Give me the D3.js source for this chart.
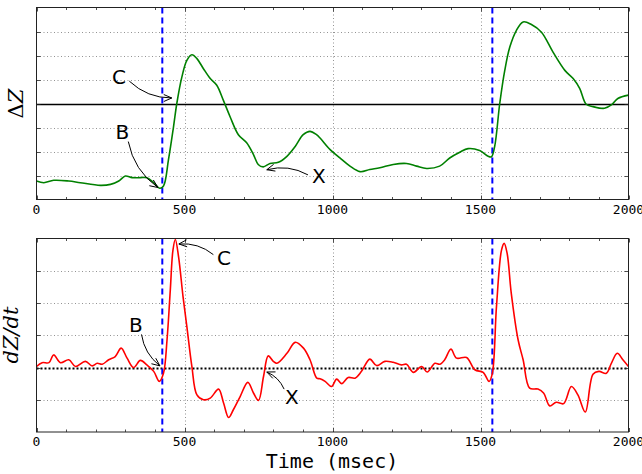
<!DOCTYPE html>
<html>
<head>
<meta charset="utf-8">
<script src="https://cdn.jsdelivr.net/npm/d3@7/dist/d3.min.js"></script>
<style>
  body { margin: 0; background: #fff; }
</style>
</head>
<body>
<div id="chart"></div>
<script>
// values (time in msec)
var timeZ = [0,25,58,109,148,216,250,278,300,323,351,373,396,416,429,446,463,474,491,508,525,542,564,587,609,631,654,682,710,733,749,766,789,817,846,874,901,924,946,958,992,1025,1059,1093,1126,1160,1205,1250,1284,1318,1362,1396,1430,1458,1497,1526,1537,1548,1565,1582,1599,1621,1644,1672,1706,1745,1785,1813,1835,1857,1880,1919,1942,1964,2000];
var deltaZ = [-3.23,-3.30,-3.20,-3.23,-3.30,-3.41,-3.37,-3.23,-3.02,-3.09,-3.09,-3.09,-3.30,-3.53,-3.44,-2.33,-0.96,0,1.10,1.80,2.03,1.87,1.45,1.04,0.76,0.14,-0.55,-1.30,-1.64,-2.13,-2.54,-2.64,-2.50,-2.45,-2.20,-1.79,-1.30,-1.16,-1.30,-1.44,-1.92,-2.27,-2.61,-2.84,-2.75,-2.68,-2.54,-2.50,-2.61,-2.71,-2.61,-2.27,-2.03,-1.88,-1.96,-2.20,-2.22,-1.78,0,1.38,2.35,3.04,3.40,3.29,2.97,2.14,1.38,1.04,0.63,-0.03,-0.13,-0.20,-0.06,0.21,0.35];

var timeD = [0,19,42,58,81,109,132,165,188,205,222,244,266,286,306,328,351,373,396,415,429,441,452,461,469,480,495,508,525,542,564,587,615,632,649,665,688,714,733,750,767,783,800,812,846,874,902,924,947,958,975,997,1014,1031,1053,1076,1098,1126,1149,1177,1205,1233,1250,1273,1301,1320,1346,1362,1379,1400,1419,1453,1481,1509,1529,1540,1554,1571,1580,1590,1604,1627,1644,1666,1694,1713,1734,1756,1781,1807,1829,1854,1880,1900,1925,1942,1962,1981,2000];
var dZdt = [0.03,0.15,0.15,0.39,0.15,0.24,0.03,0.19,0.05,0.13,0.10,0.24,0.34,0.60,0.29,0,0.22,0.08,-0.12,-0.43,-0.18,0.86,2.40,3.64,3.97,3.43,2.20,1.27,0.03,-0.85,-1.00,-0.95,-0.67,-1.10,-1.55,-1.31,-0.90,-0.46,-0.79,-1.02,-0.28,0.36,0.19,0.13,0.44,0.78,0.60,0.24,-0.33,-0.35,-0.43,-0.59,-0.36,-0.50,-0.31,-0.33,-0.12,0.26,0.06,0.19,0.16,0.08,0.10,-0.15,0.03,-0.14,0.13,0.10,0.24,0.57,0.29,0.31,-0.07,-0.15,-0.43,-0.18,1.89,3.64,3.85,3.54,2.30,0.86,0.24,-0.64,-0.67,-0.79,-1.19,-1.08,-1.12,-0.59,-0.85,-1.38,-0.21,-0.12,-0.18,0.13,0.44,0.24,0.03];

var xTicks = [0, 500, 1000, 1500, 2000];
var markTimes = [425, 1540];   // blue dashed markers

// annotations: label, arrow tip (t, v), text (t, v)
var notesLabel = ["C", "B", "X"];
var notesTopTip = [[457, 0.23], [410, -3.50], [778, -2.76]];
var notesTopText = [[279, 1.10], [290, -1.20], [954, -3.03]];
var notesBotTip = [[481, 3.83], [417, 0.05], [778, -0.14]];
var notesBotText = [[633, 3.40], [336, 1.32], [863, -0.91]];

var svgWidth = 642, svgHeight = 474;
var left = 36.5, right = 628.5;

var svg = d3.select("#chart").append("svg")
    .attr("width", svgWidth)
    .attr("height", svgHeight)
    .style("font-family", "'DejaVu Sans Mono', monospace");

var x = d3.scaleLinear().domain([0, 2000]).range([left, right]);

var panels = [
  {top: 7.5, bottom: 199.5, domain: [-4, 4], t: timeZ, v: deltaZ, color: "#008000",
   tip: notesTopTip, txt: notesTopText, zeroSolid: true, id: "cTop"},
  {top: 238.5, bottom: 432, domain: [-2, 4], t: timeD, v: dZdt, color: "#ff0000",
   tip: notesBotTip, txt: notesBotText, zeroSolid: false, id: "cBot"}
];

panels.forEach(function(p) {
  var y = d3.scaleLinear().domain(p.domain).range([p.bottom, p.top]);
  var g = svg.append("g");

  g.append("clipPath").attr("id", p.id)
    .append("rect")
    .attr("x", left).attr("y", p.top)
    .attr("width", right - left).attr("height", p.bottom - p.top);

  // grid
  var yTicks = d3.range(p.domain[0] + 1, p.domain[1]).filter(function(d) { return d != 0; });
  g.selectAll(".hgrid").data(yTicks).enter().append("line")
    .attr("x1", left).attr("x2", right)
    .attr("y1", function(d) { return Math.round(y(d)) + 0.5; })
    .attr("y2", function(d) { return Math.round(y(d)) + 0.5; })
    .attr("stroke", "#777").attr("stroke-width", 0.8)
    .attr("stroke-dasharray", "1,2.5");

  g.selectAll(".vgrid").data([500, 1000, 1500]).enter().append("line")
    .attr("x1", function(d) { return Math.round(x(d)) + 0.5; })
    .attr("x2", function(d) { return Math.round(x(d)) + 0.5; })
    .attr("y1", p.top).attr("y2", p.bottom)
    .attr("stroke", "#777").attr("stroke-width", 0.8)
    .attr("stroke-dasharray", "1,2.5");

  // zero line
  var z = Math.round(y(0)) + 0.5;
  if (p.zeroSolid) {
    g.append("line").attr("x1", left).attr("x2", right).attr("y1", z).attr("y2", z)
      .attr("stroke", "#000").attr("stroke-width", 1.3);
  } else {
    g.append("line").attr("x1", left).attr("x2", right).attr("y1", z).attr("y2", z)
      .attr("stroke", "#000").attr("stroke-width", 2).attr("stroke-dasharray", "2,2");
  }

  // blue markers
  g.selectAll(".mark").data(markTimes).enter().append("line")
    .attr("x1", function(d) { return x(d); })
    .attr("x2", function(d) { return x(d); })
    .attr("y1", p.top).attr("y2", p.bottom)
    .attr("stroke", "#0000ff").attr("stroke-width", 2)
    .attr("stroke-dasharray", "6,4");

  // curve
  var line = d3.line()
    .x(function(d, i) { return x(p.t[i]); })
    .y(function(d) { return y(d); })
    .curve(d3.curveCatmullRom.alpha(0.5));

  g.append("path")
    .datum(p.v)
    .attr("clip-path", "url(#" + p.id + ")")
    .attr("fill", "none")
    .attr("stroke", p.color)
    .attr("stroke-width", 1.6)
    .attr("d", line);

  // frame
  g.append("rect")
    .attr("x", left).attr("y", p.top)
    .attr("width", right - left).attr("height", p.bottom - p.top)
    .attr("fill", "none").attr("stroke", "#222").attr("stroke-width", 1);

  // ticks, inward
  var minor = d3.range(0, 2001, 100);
  g.selectAll(".xt").data(minor).enter().append("path")
    .attr("d", function(d) {
      var len = d % 500 == 0 ? 4 : 2.5;
      var xx = Math.round(x(d)) + 0.5;
      return "M" + xx + "," + p.bottom + "v" + (-len) + "M" + xx + "," + p.top + "v" + len;
    })
    .attr("stroke", "#222").attr("stroke-width", 0.8);

  g.selectAll(".yt").data(yTicks.concat([0])).enter().append("path")
    .attr("d", function(d) {
      var yy = Math.round(y(d)) + 0.5;
      return "M" + left + "," + yy + "h4M" + right + "," + yy + "h-4";
    })
    .attr("stroke", "#222").attr("stroke-width", 0.8);

  // tick labels
  g.selectAll(".xl").data(xTicks).enter().append("text")
    .attr("x", function(d) { return x(d); })
    .attr("y", p.bottom + 14)
    .attr("text-anchor", "middle")
    .attr("font-size", 13)
    .text(function(d) { return d; });

  // annotations
  notesLabel.forEach(function(lab, i) {
    var tx = x(p.txt[i][0]), ty = y(p.txt[i][1]);
    var ex = x(p.tip[i][0]), ey = y(p.tip[i][1]);
    g.append("text")
      .attr("x", tx).attr("y", ty)
      .attr("text-anchor", "middle")
      .attr("dominant-baseline", "central")
      .attr("font-family", "'DejaVu Sans', sans-serif")
      .attr("font-size", 20)
      .text(lab);
    var dx = ex - tx, dy = ey - ty, L = Math.sqrt(dx * dx + dy * dy);
    var sx = tx + dx / L * 11, sy = ty + dy / L * 11;
    dx = ex - sx; dy = ey - sy;
    var f = 0.2;
    var cx = (sx + ex) / 2 - f * dy, cy = (sy + ey) / 2 + f * dx;
    g.append("path")
      .attr("d", "M" + sx + "," + sy + "Q" + cx + "," + cy + " " + ex + "," + ey)
      .attr("fill", "none").attr("stroke", "#000").attr("stroke-width", 1);
    // open arrow head
    var ux = ex - cx, uy = ey - cy, ul = Math.sqrt(ux * ux + uy * uy);
    ux /= ul; uy /= ul;
    var hl = 8, hw = 3.5;
    g.append("path")
      .attr("d", "M" + (ex - ux * hl - uy * hw) + "," + (ey - uy * hl + ux * hw) +
                 "L" + ex + "," + ey +
                 "L" + (ex - ux * hl + uy * hw) + "," + (ey - uy * hl - ux * hw))
      .attr("fill", "none").attr("stroke", "#000").attr("stroke-width", 1);
  });
});

// axis titles
var tTop = svg.append("text")
    .attr("transform", "translate(23,103.5) rotate(-90)")
    .attr("text-anchor", "middle")
    .attr("font-family", "'DejaVu Serif', serif")
    .attr("font-size", 21);
tTop.append("tspan").text("Δ");
tTop.append("tspan").attr("font-style", "italic").text("Z");

svg.append("text")
    .attr("transform", "translate(18,335) rotate(-90)")
    .attr("text-anchor", "middle")
    .attr("font-family", "'DejaVu Serif', serif")
    .attr("font-style", "italic")
    .attr("font-size", 21)
    .text("dZ/dt");

svg.append("text")
    .attr("x", 332).attr("y", 468)
    .attr("text-anchor", "middle")
    .attr("font-size", 20)
    .text("Time (msec)");
</script>
</body>
</html>
